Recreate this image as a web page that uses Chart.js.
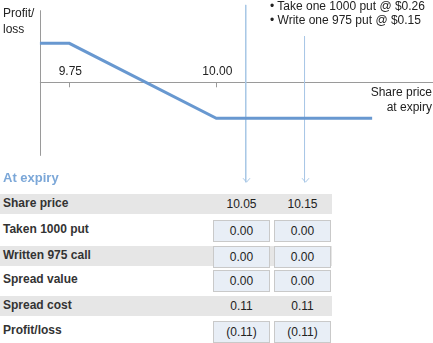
<!DOCTYPE html>
<html>
<head>
<meta charset="utf-8">
<script src="https://cdn.jsdelivr.net/npm/chart.js@4"></script>
<style>
  body { margin: 0; background: #fff; font-family: "Liberation Sans", Arial, sans-serif; color: #222; }
  #wrap { position: relative; width: 433px; height: 343px; overflow: hidden; }
  #chartBox { position: absolute; left: 0; top: 0; width: 433px; height: 190px; }
  .txt { position: absolute; font-size: 12px; line-height: 14px; white-space: nowrap; }
  .row { position: absolute; left: 0; width: 332px; height: 20px; }
  .row.grey { background: #e6e6e6; }
  .rlabel { position: absolute; left: 3px; font-size: 12px; font-weight: bold; color: #333; line-height: 14px; }
  .cell { position: absolute; width: 57px; height: 22px; box-sizing: border-box; text-align: center;
          font-size: 12px; line-height: 20px; color: #222; }
  .cell.box { background: #e8eef6; border: 1px solid #c9c9c9; }
</style>
</head>
<body>
<div id="wrap">
  <div id="chartBox"><canvas id="payoffChart"></canvas></div>
  <div class="txt" style="left:3px;top:5px;line-height:16px;">Profit/<br>loss</div>
  <div class="txt" style="right:1px;top:85px;line-height:15px;text-align:right;">Share price<br>at expiry</div>
  <div class="txt" style="left:270px;top:-1px;">&bull; Take one 1000 put @ $0.26<br>&bull; Write one 975 put @ $0.15</div>
  <div class="txt" style="left:3px;top:171px;font-size:13px;font-weight:bold;color:#7ba7d8;">At expiry</div>
  <div id="table"></div>
</div>
<script>
// ---- payoff line (share price vs profit/loss) ----
const payoffPrice = [9.70, 9.75, 10.00, 10.265];
const payoffValue = [0.13, 0.13, -0.12, -0.12];

// axis ticks
const tickValues = [9.75, 10.00];
const tickLabels = ['9.75', '10.00'];

// guide lines dropping to the table columns
const sharePrices = [10.05, 10.15];
const guideTop    = [0.258, 0.154];
const guideBottom = -0.333;

// table rows
const rowLabels   = ['Share price', 'Taken 1000 put', 'Written 975 call', 'Spread value', 'Spread cost', 'Profit/loss'];
const takenPut    = [0.00, 0.00];
const writtenCall = [0.00, 0.00];
const spreadValue = [0.00, 0.00];
const spreadCost  = [0.11, 0.11];
const profitLoss  = [-0.11, -0.11];

const AXIS_X = 9.70;
const Y_AXIS_RANGE = [-0.245, 0.24];
const X_MIN = 9.6321, X_MAX = 10.3685;
const Y_MIN = -0.359, Y_MAX = 0.2743;

function fmt(v) {
    return v < 0 ? '(' + Math.abs(v).toFixed(2) + ')' : v.toFixed(2);
}

// axes, ticks and arrow heads drawn from the chart scales
const axesPlugin = {
    id: 'axes',
    beforeDatasetsDraw(chart) {
        const { ctx, scales: { x, y } } = chart;
        const x0 = x.getPixelForValue(AXIS_X);
        const yZero = y.getPixelForValue(0);
        ctx.save();
        ctx.strokeStyle = '#9a9a9a';
        ctx.lineWidth = 1;
        ctx.beginPath();
        ctx.moveTo(Math.round(x0) + 0.5, y.getPixelForValue(Y_AXIS_RANGE[1]));
        ctx.lineTo(Math.round(x0) + 0.5, y.getPixelForValue(Y_AXIS_RANGE[0]));
        ctx.moveTo(x0, Math.round(yZero) + 0.5);
        ctx.lineTo(chart.width, Math.round(yZero) + 0.5);
        tickValues.forEach(v => {
            const px = Math.round(x.getPixelForValue(v)) + 0.5;
            ctx.moveTo(px, yZero);
            ctx.lineTo(px, yZero + 5);
        });
        ctx.stroke();
        ctx.fillStyle = '#222';
        ctx.font = '12px "Liberation Sans", Arial, sans-serif';
        ctx.textAlign = 'center';
        ctx.textBaseline = 'middle';
        tickValues.forEach((v, i) => {
            ctx.fillText(tickLabels[i], x.getPixelForValue(v) + 1, yZero - 11);
        });
        ctx.restore();
    },
    afterDatasetsDraw(chart) {
        const { ctx, scales: { x, y } } = chart;
        const tipY = y.getPixelForValue(guideBottom);
        ctx.save();
        ctx.strokeStyle = '#a9c8e6';
        ctx.lineWidth = 1;
        sharePrices.forEach(p => {
            const px = Math.round(x.getPixelForValue(p)) + 0.5;
            ctx.beginPath();
            ctx.moveTo(px - 3.5, tipY - 4);
            ctx.lineTo(px, tipY);
            ctx.lineTo(px + 3.5, tipY - 4);
            ctx.stroke();
        });
        ctx.restore();
    }
};

const guideSets = sharePrices.map((p, i) => ({
    data: [{ x: p, y: guideTop[i] }, { x: p, y: guideBottom }],
    borderColor: '#a9c8e6',
    borderWidth: 1,
    pointRadius: 0,
}));

new Chart(document.getElementById('payoffChart'), {
    type: 'line',
    data: {
        datasets: [{
            data: payoffPrice.map((p, i) => ({ x: p, y: payoffValue[i] })),
            borderColor: '#6898d0',
            borderWidth: 3,
            pointRadius: 0,
            tension: 0,
        }, ...guideSets],
    },
    options: {
        responsive: true, maintainAspectRatio: false,
        animation: false,
        layout: { padding: 0 },
        plugins: { legend: { display: false }, tooltip: { enabled: false } },
        scales: {
            x: { type: 'linear', min: X_MIN, max: X_MAX, display: false },
            y: { type: 'linear', min: Y_MIN, max: Y_MAX, display: false },
        },
    },
    plugins: [axesPlugin],
});

// ---- table under the chart ----
const rowTops  = [194, 220, 246, 270, 296, 321];
const rowGrey  = [true, false, true, false, true, false];
const rowBoxed = [false, true, true, true, false, true];
const rowData  = [sharePrices, takenPut, writtenCall, spreadValue, spreadCost, profitLoss];
const colLeft  = [213, 274];

const table = document.getElementById('table');
table.innerHTML = rowLabels.map((label, r) => {
    const top = rowTops[r];
    const vals = rowData[r].map((v, c) => `
        <div class="cell ${rowBoxed[r] ? 'box' : ''}" style="left:${colLeft[c]}px;top:${top}px;">
            ${fmt(v)}</div>`).join('');
    return `
        ${rowGrey[r] ? `<div class="row grey" style="top:${top}px;"></div>` : ''}
        <div class="rlabel" style="top:${top + 2}px;">${label}</div>
        ${vals}`;
}).join('');
</script>
</body>
</html>
